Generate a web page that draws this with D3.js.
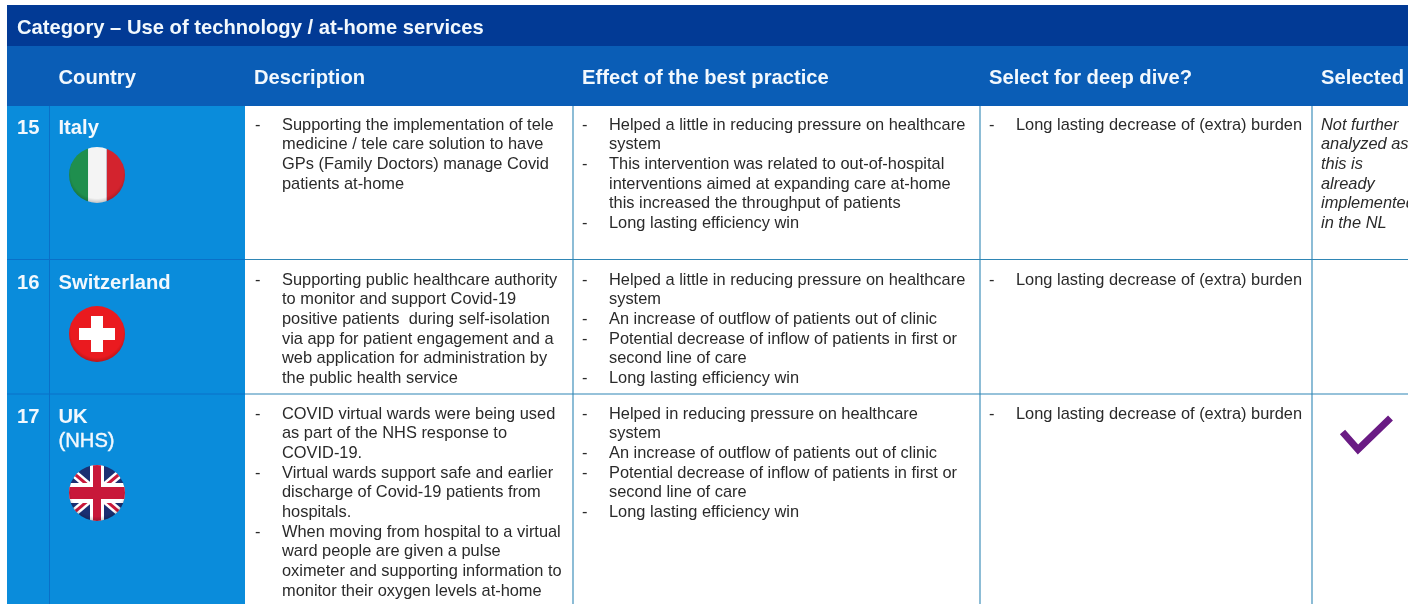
<!DOCTYPE html>
<html lang="en">
<head>
<meta charset="utf-8">
<title>Use of technology / at-home services</title>
<script src="https://d3js.org/d3.v7.min.js"></script>
<style>
  html, body { margin: 0; padding: 0; background: #fff; overflow: hidden; }
  svg { display: block; font-family: "Liberation Sans", Arial, sans-serif; filter: blur(0.4px); }
  .head { font-weight: bold; font-size: 20.2px; fill: #f2f8fd; }
  .cell { font-size: 16.4px; fill: #2a2a2a; }
</style>
</head>
<body>
<div id="viz"></div>
<script>
var categoryTitle = "Category \u2013 Use of technology / at-home services";
var headers = ["Country", "Description", "Effect of the best practice", "Select for deep dive?", "Selected"];
var rowNumbers = ["15", "16", "17"];
var countries = [["Italy"], ["Switzerland"], ["UK", "(NHS)"]];
var flags = ["italy", "swiss", "uk"];

// each bullet is one list of wrapped lines
var descriptions = [
  [["Supporting the implementation of tele", "medicine / tele care solution to have", "GPs (Family Doctors) manage Covid", "patients at-home"]],
  [["Supporting public healthcare authority", "to monitor and support Covid-19", "positive patients  during self-isolation", "via app for patient engagement and a", "web application for administration by", "the public health service"]],
  [["COVID virtual wards were being used", "as part of the NHS response to", "COVID-19."],
   ["Virtual wards support safe and earlier", "discharge of Covid-19 patients from", "hospitals."],
   ["When moving from hospital to a virtual", "ward people are given a pulse", "oximeter and supporting information to", "monitor their oxygen levels at-home"]]
];
var effects = [
  [["Helped a little in reducing pressure on healthcare", "system"],
   ["This intervention was related to out-of-hospital", "interventions aimed at expanding care at-home", "this increased the throughput of patients"],
   ["Long lasting efficiency win"]],
  [["Helped a little in reducing pressure on healthcare", "system"],
   ["An increase of outflow of patients out of clinic"],
   ["Potential decrease of inflow of patients in first or", "second line of care"],
   ["Long lasting efficiency win"]],
  [["Helped in reducing pressure on healthcare", "system"],
   ["An increase of outflow of patients out of clinic"],
   ["Potential decrease of inflow of patients in first or", "second line of care"],
   ["Long lasting efficiency win"]]
];
var deepDive = [
  [["Long lasting decrease of (extra) burden"]],
  [["Long lasting decrease of (extra) burden"]],
  [["Long lasting decrease of (extra) burden"]]
];
var selectedNotes = [["Not further", "analyzed as", "this is", "already", "implemented", "in the NL"], [], []];
var selectedChecks = [false, false, true];

var W = 1408, H = 604;
var svg = d3.select("#viz").append("svg").attr("width", W).attr("height", H);

// layout
var left = 7, top0 = 5, headTop = 46, bodyTop = 106;
var rowEdges = [106, 259.5, 394, 604];
var colEdges = [245, 573, 980, 1312, W];
var lineStep = 19.65;
var bodyBase = [129.8, 284.8, 418.8];

// background bands
svg.append("rect").attr("x", left).attr("y", top0).attr("width", W - left).attr("height", headTop - top0).attr("fill", "#023a95");
svg.append("rect").attr("x", left).attr("y", headTop).attr("width", W - left).attr("height", bodyTop - headTop).attr("fill", "#0a5db6");
svg.append("rect").attr("x", left).attr("y", bodyTop).attr("width", colEdges[0] - left).attr("height", H - bodyTop).attr("fill", "#0a8cdb");

svg.append("text").attr("class", "head").attr("x", 17).attr("y", 34).text(categoryTitle);

var headX = [58.5, 254, 582, 989, 1321];
svg.selectAll("text.colhead").data(headers).enter().append("text")
  .attr("class", "head colhead")
  .attr("x", function(d, i) { return headX[i]; })
  .attr("y", 84)
  .text(function(d) { return d; });

// grid lines
svg.append("line").attr("x1", 49.5).attr("x2", 49.5).attr("y1", bodyTop).attr("y2", H).attr("stroke", "#0a70c8").attr("stroke-width", 1);
svg.selectAll("line.rowdark").data(rowEdges.slice(1, 3)).enter().append("line")
  .attr("x1", left).attr("x2", colEdges[0])
  .attr("y1", function(d) { return d; }).attr("y2", function(d) { return d; })
  .attr("stroke", "#0a70c8");
svg.selectAll("line.rowlight").data(rowEdges.slice(1, 3)).enter().append("line")
  .attr("x1", colEdges[0]).attr("x2", W)
  .attr("y1", function(d) { return d; }).attr("y2", function(d) { return d; })
  .attr("stroke", "#2f86b5").attr("stroke-width", 1.1);
svg.selectAll("line.coll").data(colEdges.slice(1, 4)).enter().append("line")
  .attr("x1", function(d) { return d; }).attr("x2", function(d) { return d; })
  .attr("y1", bodyTop).attr("y2", H)
  .attr("stroke", "#2f86b5").attr("stroke-width", 1.1);

// left column text
svg.selectAll("text.num").data(rowNumbers).enter().append("text")
  .attr("class", "head num").attr("x", 17).attr("y", function(d, i) { return bodyBase[i] + 4.5; })
  .text(function(d) { return d; });
countries.forEach(function(lines, r) {
  svg.selectAll("text.c" + r).data(lines).enter().append("text")
    .attr("class", "head c" + r)
    .attr("x", 58.5)
    .attr("y", function(d, i) { return bodyBase[r] + 4.5 + i * 24; })
    .style("font-weight", function(d, i) { return i ? "normal" : "bold"; })
    .style("stroke", function(d, i) { return i ? "#f2f8fd" : "none"; })
    .style("stroke-width", 0.4)
    .text(function(d) { return d; });
});

// bulleted cells
function bullets(data, dashX, textX) {
  data.forEach(function(cell, r) {
    var n = 0;
    cell.forEach(function(lines) {
      svg.append("text").attr("class", "cell").attr("x", dashX).attr("y", bodyBase[r] + n * lineStep).text("-");
      lines.forEach(function(t) {
        svg.append("text").attr("class", "cell").attr("x", textX).attr("y", bodyBase[r] + n * lineStep)
          .style("white-space", "pre").text(t);
        n++;
      });
    });
  });
}
bullets(descriptions, 255, 282);
bullets(effects, 582, 609);
bullets(deepDive, 989, 1016);

selectedNotes.forEach(function(lines, r) {
  svg.selectAll("text.n" + r).data(lines).enter().append("text")
    .attr("class", "cell n" + r).attr("x", 1321)
    .attr("y", function(d, i) { return bodyBase[r] + i * lineStep; })
    .style("font-style", "italic")
    .text(function(d) { return d; });
});

// check mark
selectedChecks.forEach(function(on, r) {
  if (!on) return;
  svg.append("path").attr("d", d3.line()([[1342.5, 432], [1358, 449.5], [1390.5, 418]]))
    .attr("fill", "none").attr("stroke", "#6a1b84").attr("stroke-width", 7);
});

// flags, round badges clipped to a circle
var flagR = 28, flagX = 97, flagY = [175, 334, 493];
var defs = svg.append("defs");
var shine = defs.append("radialGradient").attr("id", "shine").attr("cx", "50%").attr("cy", "45%").attr("r", "55%");
shine.append("stop").attr("offset", "85%").attr("stop-color", "#000").attr("stop-opacity", 0);
shine.append("stop").attr("offset", "100%").attr("stop-color", "#000").attr("stop-opacity", 0.2);

flags.forEach(function(name, i) {
  defs.append("clipPath").attr("id", "clip-" + name).append("circle").attr("r", flagR);
  var g = svg.append("g").attr("transform", "translate(" + flagX + "," + flagY[i] + ")");
  var f = g.append("g").attr("clip-path", "url(#clip-" + name + ")");
  var R = flagR;
  if (name == "italy") {
    f.append("rect").attr("x", -R).attr("y", -R).attr("width", R * 0.68).attr("height", 2 * R).attr("fill", "#1f8f4e");
    f.append("rect").attr("x", -R * 0.32).attr("y", -R).attr("width", R * 0.67).attr("height", 2 * R).attr("fill", "#f4f4f4");
    f.append("rect").attr("x", R * 0.35).attr("y", -R).attr("width", R * 0.65).attr("height", 2 * R).attr("fill", "#d3232e");
  } else if (name == "swiss") {
    f.append("rect").attr("x", -R).attr("y", -R).attr("width", 2 * R).attr("height", 2 * R).attr("fill", "#ea1a1f");
    f.append("rect").attr("x", -6).attr("y", -18).attr("width", 12).attr("height", 36).attr("fill", "#fff");
    f.append("rect").attr("x", -18).attr("y", -6).attr("width", 36).attr("height", 12).attr("fill", "#fff");
  } else {
    f.append("rect").attr("x", -R).attr("y", -R).attr("width", 2 * R).attr("height", 2 * R).attr("fill", "#1b2f72");
    var diag = [[-R, -R * 0.85, R, R * 0.85], [-R, R * 0.85, R, -R * 0.85]];
    diag.forEach(function(d) {
      f.append("line").attr("x1", d[0]).attr("y1", d[1]).attr("x2", d[2]).attr("y2", d[3]).attr("stroke", "#fff").attr("stroke-width", 8);
      f.append("line").attr("x1", d[0]).attr("y1", d[1]).attr("x2", d[2]).attr("y2", d[3]).attr("stroke", "#c8183a").attr("stroke-width", 3);
    });
    f.append("rect").attr("x", -R).attr("y", -10).attr("width", 2 * R).attr("height", 20).attr("fill", "#fff");
    f.append("rect").attr("x", -7).attr("y", -R).attr("width", 14).attr("height", 2 * R).attr("fill", "#fff");
    f.append("rect").attr("x", -R).attr("y", -6).attr("width", 2 * R).attr("height", 12).attr("fill", "#c8183a");
    f.append("rect").attr("x", -4).attr("y", -R).attr("width", 8).attr("height", 2 * R).attr("fill", "#c8183a");
  }
  g.append("circle").attr("r", flagR).attr("fill", "url(#shine)");
});
</script>
</body>
</html>
